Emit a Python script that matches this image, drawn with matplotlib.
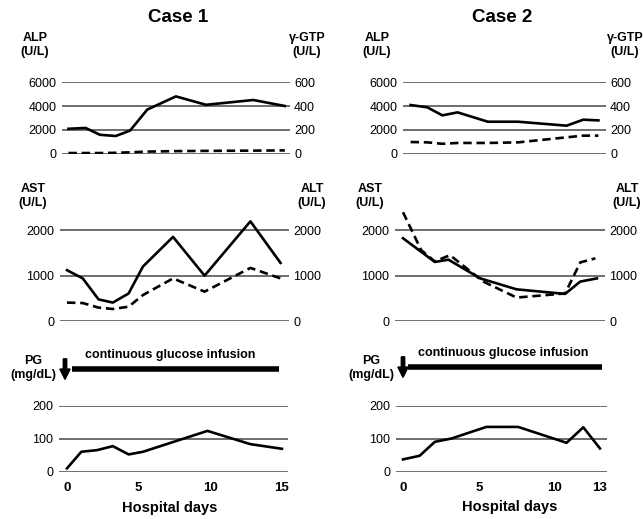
import matplotlib
matplotlib.use("Agg")
import matplotlib.pyplot as plt
from matplotlib.lines import Line2D

plt.rcParams['font.family'] = ['Liberation Sans', 'DejaVu Sans']

W, H = 643, 519

# ---- data ----
# Case 1
c1_alp_day = [0.1, 1.3, 2.3, 3.4, 4.4, 5.6, 7.6, 9.7, 13.0, 15.2]
c1_alp = [2100, 2170, 1600, 1500, 1950, 3700, 4800, 4100, 4500, 4000]
c1_gtp = [8, 8, 8, 10, 14, 20, 24, 26, 28, 30]

c1_ast_day = [0, 1.1, 2.2, 3.2, 4.3, 5.3, 7.4, 9.6, 12.8, 14.9]
c1_ast = [1120, 940, 480, 410, 610, 1200, 1850, 1000, 2190, 1280]
c1_alt = [410, 400, 300, 270, 320, 575, 940, 650, 1170, 940]

c1_pg_day = [0, 1.0, 2.1, 3.2, 4.3, 5.3, 9.8, 12.8, 15.0]
c1_pg = [11, 61, 66, 78, 53, 61, 124, 84, 70]

# Case 2
c2_alp_day = [0.5, 1.6, 2.6, 3.6, 5.6, 7.6, 10.8, 11.9, 12.9]
c2_alp = [4080, 3890, 3220, 3470, 2690, 2690, 2360, 2860, 2800]
c2_gtp = [100, 97, 85, 92, 92, 97, 139, 153, 153]

c2_ast_day = [0, 2.1, 3.0, 5.1, 7.5, 10.7, 11.7, 12.8]
c2_ast = [1820, 1300, 1350, 940, 700, 600, 870, 940]
c2_alt_day = [0, 1.2, 2.1, 3.1, 5.3, 7.5, 10.7, 11.7, 12.7]
c2_alt = [2390, 1560, 1310, 1450, 870, 520, 610, 1290, 1380]

c2_pg_day = [0, 1.1, 2.1, 3.2, 5.5, 7.6, 10.8, 11.9, 13.0]
c2_pg = [38, 49, 91, 101, 136, 136, 88, 135, 71]

c1_xticks = [0, 5, 10, 15]
c2_xticks = [0, 5, 10, 13]

fig = plt.figure(figsize=(W / 100, H / 100), dpi=100)


def fx(x):
    return x / W


def fy(y):
    return 1 - y / H


def panel(left, right, ytop, ybot, ylim, day0, ppd, yticks):
    ax = fig.add_axes([fx(left), fy(ybot), (right - left) / W, (ybot - ytop) / H])
    ax.set_xlim((left - day0) / ppd, (right - day0) / ppd)
    ax.set_ylim(*ylim)
    for s in ax.spines.values():
        s.set_visible(False)
    ax.set_yticks(yticks)
    for t in yticks:
        ax.axhline(t, color='#555555', lw=1.2, zorder=1)
    ax.tick_params(length=0, labelsize=9, pad=4)
    ax.set_xticks([])
    ax.patch.set_alpha(0)
    return ax


def twin(ax, ylim, yticks):
    a2 = ax.twinx()
    a2.set_ylim(*ylim)
    a2.set_yticks(yticks)
    for s in a2.spines.values():
        s.set_visible(False)
    a2.tick_params(length=0, labelsize=9, pad=3)
    return a2


solid = dict(color='k', lw=1.9, zorder=3)
dashed = dict(color='k', lw=1.9, ls=(0, (3.2, 1.8)), zorder=3)

# ---- case 1 ----
d0, ppd = 67, 14.33
ax = panel(62, 290, 82, 154, (0, 6000), d0, ppd, [0, 2000, 4000, 6000])
ax.plot(c1_alp_day, c1_alp, **solid)
a2 = twin(ax, (0, 600), [0, 200, 400, 600])
a2.plot(c1_alp_day, c1_gtp, **dashed)

ax = panel(60, 289, 207.2, 321.3, (0, 2500), d0, ppd, [0, 1000, 2000])
ax.plot(c1_ast_day, c1_ast, **solid)
a2 = twin(ax, (0, 2500), [0, 1000, 2000])
a2.plot(c1_ast_day, c1_alt, **dashed)

ax = panel(59, 288, 405.7, 472, (0, 200), d0, ppd, [0, 100, 200])
ax.plot(c1_pg_day, c1_pg, **solid)
ax.set_xticks(c1_xticks)
ax.set_xticklabels([str(t) for t in c1_xticks], fontweight='bold', fontsize=9.5)
ax.tick_params(axis='x', pad=7)

# ---- case 2 ----
d0, ppd = 403, 15.15
ax = panel(403, 606, 82, 154, (0, 6000), d0, ppd, [0, 2000, 4000, 6000])
ax.plot(c2_alp_day, c2_alp, **solid)
a2 = twin(ax, (0, 600), [0, 200, 400, 600])
a2.plot(c2_alp_day, c2_gtp, **dashed)

ax = panel(395, 605, 207.2, 321.3, (0, 2500), d0, ppd, [0, 1000, 2000])
ax.plot(c2_ast_day, c2_ast, **solid)
a2 = twin(ax, (0, 2500), [0, 1000, 2000])
a2.plot(c2_alt_day, c2_alt, **dashed)

ax = panel(396, 607, 405.7, 472, (0, 200), d0, ppd, [0, 100, 200])
ax.plot(c2_pg_day, c2_pg, **solid)
ax.set_xticks(c2_xticks)
ax.set_xticklabels([str(t) for t in c2_xticks], fontweight='bold', fontsize=9.5)
ax.tick_params(axis='x', pad=7)


# ---- texts ----
def txt(x, y, s, size=9, **kw):
    fig.text(fx(x), fy(y), s, ha='center', va='center', fontsize=size,
             fontweight='bold', linespacing=1.15, **kw)


txt(178, 18, 'Case 1', 13.5)
txt(502, 18, 'Case 2', 13.5)

for xl, xr in [(35, 307), (377, 625)]:
    txt(xl, 45, 'ALP\n(U/L)')
    txt(xr, 45, 'γ-GTP\n(U/L)')
for xl, xr in [(33, 312), (370, 627)]:
    txt(xl, 196, 'AST\n(U/L)')
    txt(xr, 196, 'ALT\n(U/L)')

# infusion bar, start arrow and label
for xl, xa, xb0, xb1, xt, ya, yb in [(33, 65, 72, 279, 170, 359, 369),
                                     (371, 403, 408, 602, 503, 357, 367)]:
    txt(xl, 368, 'PG\n(mg/dL)')
    fig.add_artist(Line2D([fx(xb0), fx(xb1)], [fy(yb), fy(yb)], lw=4,
                          color='k', solid_capstyle='butt'))
    fig.add_artist(plt.annotate('', xy=(fx(xa), fy(ya + 20)), xytext=(fx(xa), fy(ya)),
                                xycoords='figure fraction',
                                arrowprops=dict(width=2.2, headwidth=7, headlength=7,
                                                shrink=0, color='k')))
    txt(xt, yb - 14, 'continuous glucose infusion', 9)

txt(170, 508, 'Hospital days', 10.5)
txt(510, 507, 'Hospital days', 10.5)

fig.savefig('out.png', dpi=100)
